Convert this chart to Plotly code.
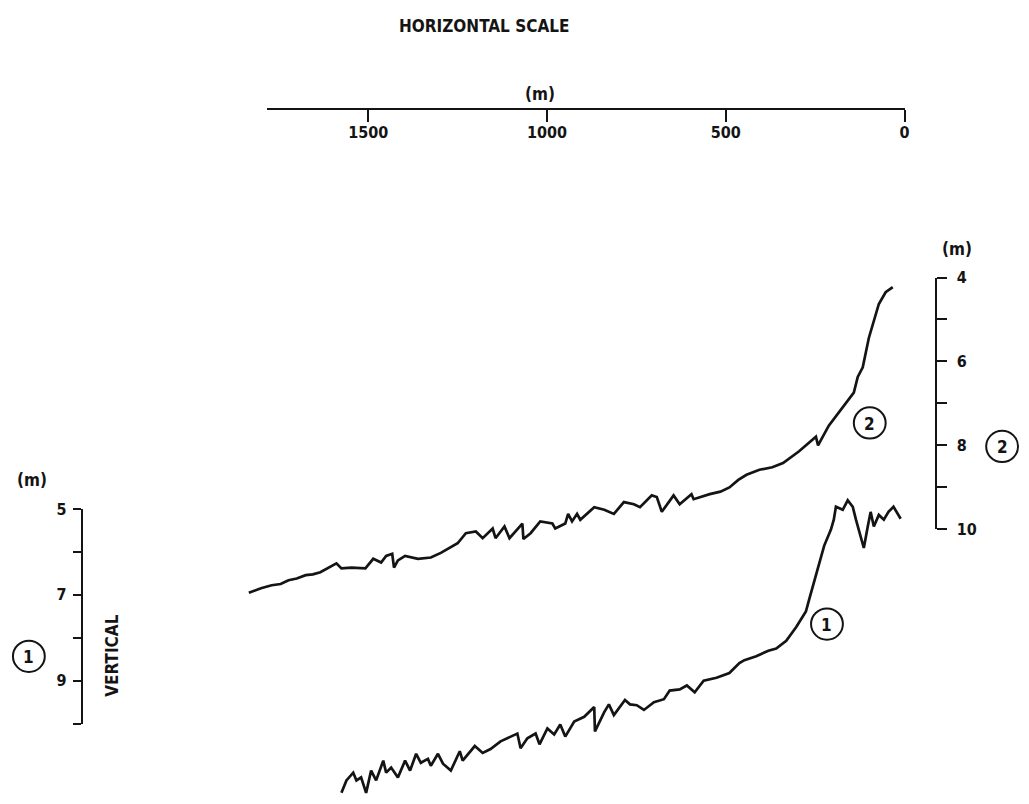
import plotly.graph_objects as go

# ---------------- data ----------------
# Profile 2 : distance from shore (m) and depth (m)
p2_dist = [1834, 1800, 1770, 1745, 1723, 1700, 1675, 1655, 1634, 1611, 1589, 1575, 1547, 1508,
           1486, 1464, 1450, 1433, 1428, 1417, 1397, 1361, 1325, 1297, 1277, 1250, 1227, 1199,
           1180, 1152, 1144, 1119, 1105, 1069, 1066, 1046, 1019, 985, 977, 949, 941, 930, 916,
           907, 868, 840, 813, 785, 757, 740, 707, 693, 679, 646, 629, 596, 590, 545, 515, 490,
           465, 442, 406, 370, 340, 295, 248, 242, 212, 184, 142, 131, 117, 100, 86, 72, 53, 33]
p2_depth = [11.51, 11.40, 11.33, 11.30, 11.21, 11.17, 11.09, 11.07, 11.02, 10.91, 10.81, 10.93,
            10.91, 10.93, 10.70, 10.79, 10.63, 10.58, 10.91, 10.74, 10.63, 10.70, 10.67, 10.56,
            10.47, 10.33, 10.09, 10.05, 10.21, 9.98, 10.21, 9.93, 10.21, 9.86, 10.23, 10.09,
            9.81, 9.86, 9.98, 9.86, 9.63, 9.81, 9.63, 9.77, 9.47, 9.53, 9.63, 9.35, 9.40, 9.47,
            9.19, 9.23, 9.58, 9.19, 9.40, 9.16, 9.28, 9.16, 9.10, 9.00, 8.82, 8.70, 8.58, 8.52,
            8.42, 8.14, 7.79, 8.00, 7.53, 7.21, 6.74, 6.37, 6.14, 5.44, 5.05, 4.63, 4.35, 4.23]

# Profile 1 : distance from shore (m) and depth (m)
p1_dist = [1575, 1561, 1542, 1533, 1520, 1506, 1492, 1478, 1458, 1450, 1436, 1417, 1397, 1383,
           1366, 1353, 1333, 1325, 1305, 1291, 1269, 1244, 1236, 1202, 1180, 1158, 1130, 1083,
           1074, 1055, 1032, 1021, 999, 980, 963, 949, 924, 896, 868, 866, 840, 827, 813, 782,
           768, 749, 729, 701, 673, 657, 629, 609, 587, 562, 526, 490, 462, 448, 415, 381, 359,
           331, 303, 276, 267, 256, 242, 225, 206, 198, 192, 173, 159, 145, 136, 122, 114, 103,
           95, 86, 72, 58, 45, 31, 11]
p1_depth = [11.61, 11.32, 11.14, 11.32, 11.25, 11.61, 11.09, 11.32, 10.86, 11.14, 11.02, 11.25,
            10.86, 11.09, 10.70, 10.91, 10.82, 10.98, 10.70, 10.93, 11.09, 10.64, 10.86, 10.52,
            10.68, 10.59, 10.41, 10.23, 10.57, 10.34, 10.23, 10.48, 10.11, 10.25, 10.02, 10.30,
            9.95, 9.84, 9.61, 10.18, 9.73, 9.55, 9.80, 9.45, 9.55, 9.57, 9.68, 9.50, 9.43, 9.23,
            9.20, 9.11, 9.27, 9.00, 8.93, 8.82, 8.59, 8.52, 8.43, 8.30, 8.25, 8.07, 7.75, 7.39,
            7.11, 6.77, 6.36, 5.86, 5.48, 5.25, 4.95, 5.02, 4.80, 4.95, 5.25, 5.64, 5.91, 5.41,
            5.07, 5.41, 5.14, 5.25, 5.07, 4.95, 5.23]

# scale bars
h_ticks = [1500, 1000, 500, 0]
h_labels = ["1500", "1000", "500", "0"]
h_extent = 1784
v2_ticks = [4, 5, 6, 7, 8, 9, 10]
v2_labels = ["4", "", "6", "", "8", "", "10"]
v1_ticks = [5, 6, 7, 8, 9, 10]
v1_labels = ["5", "", "7", "", "9", ""]

# ---------------- geometry (pixels) ----------------
W, H = 1029, 804
X_ZERO = 909          # pixel column of distance 0
H_PPM = 0.3593        # horizontal pixels per metre
H_LINE_Y = 101        # horizontal scale line row
V2_TOP, V2_PPM, V2_X = 275, 43.0, 940   # right scale: depth 4 at V2_TOP
V1_BOT, V1_PPM, V1_X = 732, 44.0, 83    # left scale: depth 10 at V1_BOT

def px(x):
    return x / W

def py(y):
    return 1 - y / H

FONT = "DejaVu Sans Condensed, DejaVu Sans, sans-serif"
INK = "#141414"

fig = go.Figure()

fig.add_trace(go.Scatter(x=p2_dist, y=p2_depth, mode="lines", xaxis="x", yaxis="y",
                         line=dict(color=INK, width=2.7), hoverinfo="skip", showlegend=False))
fig.add_trace(go.Scatter(x=p1_dist, y=p1_depth, mode="lines", xaxis="x", yaxis="y2",
                         line=dict(color=INK, width=2.7), hoverinfo="skip", showlegend=False))
# carriers for the scale-bar axes
fig.add_trace(go.Scatter(x=[], y=[], xaxis="x2", yaxis="y3", showlegend=False))
fig.add_trace(go.Scatter(x=[], y=[], xaxis="x3", yaxis="y4", showlegend=False))
fig.add_trace(go.Scatter(x=[], y=[], xaxis="x4", yaxis="y5", showlegend=False))

hidden = dict(visible=False, fixedrange=True)
tickfont = dict(family=FONT, size=16, color=INK, weight="bold")

fig.update_layout(
    width=W, height=H,
    margin=dict(l=0, r=0, t=0, b=0),
    paper_bgcolor="white", plot_bgcolor="rgba(0,0,0,0)",
    showlegend=False,
    xaxis=dict(hidden, domain=[0, 1], range=[X_ZERO / H_PPM, (X_ZERO - W) / H_PPM], anchor="y"),
    yaxis=dict(hidden, domain=[0, 1], range=[4 + (H - V2_TOP) / V2_PPM, 4 - V2_TOP / V2_PPM], anchor="x"),
    yaxis2=dict(hidden, domain=[0, 1], overlaying="y", anchor="x",
                range=[10 + (H - V1_BOT) / V1_PPM, 10 - V1_BOT / V1_PPM]),
    # horizontal scale bar
    xaxis2=dict(domain=[px(X_ZERO - h_extent * H_PPM), px(X_ZERO)], range=[h_extent, 0],
                anchor="y3", side="bottom", showline=True, linecolor=INK, linewidth=2,
                ticks="outside", ticklen=12, tickwidth=2, tickcolor=INK,
                tickvals=h_ticks, ticktext=h_labels, tickfont=tickfont, ticklabelstandoff=-3,
                showgrid=False, zeroline=False, fixedrange=True),
    yaxis3=dict(hidden, domain=[py(H_LINE_Y), py(H_LINE_Y - 30)], range=[0, 1], anchor="x2"),
    # right vertical scale (profile 2)
    xaxis3=dict(hidden, domain=[px(V2_X - 40), px(V2_X)], range=[0, 1], anchor="y4"),
    yaxis4=dict(domain=[py(V2_TOP + 6 * V2_PPM), py(V2_TOP)], range=[10, 4], anchor="x3",
                side="right", showline=True, linecolor=INK, linewidth=2,
                ticks="outside", ticklen=10, tickwidth=2, tickcolor=INK,
                tickvals=v2_ticks, ticktext=v2_labels, tickfont=tickfont, ticklabelstandoff=6,
                showgrid=False, zeroline=False, fixedrange=True),
    # left vertical scale (profile 1)
    xaxis4=dict(hidden, domain=[px(V1_X), px(V1_X + 40)], range=[0, 1], anchor="y5"),
    yaxis5=dict(domain=[py(V1_BOT), py(V1_BOT - 5 * V1_PPM)], range=[10, 5], anchor="x4",
                side="left", showline=True, linecolor=INK, linewidth=2,
                ticks="outside", ticklen=8, tickwidth=2, tickcolor=INK,
                tickvals=v1_ticks, ticktext=v1_labels, tickfont=tickfont, ticklabelstandoff=3,
                showgrid=False, zeroline=False, fixedrange=True),
)

def label(text, x, y, size=16, angle=0, bold=False):
    fig.add_annotation(text=text, x=px(x), y=py(y), xref="paper", yref="paper",
                       showarrow=False, textangle=angle, xanchor="center", yanchor="middle",
                       font=dict(family=FONT, size=size, color=INK,
                                 weight="bold" if bold else "normal"))

def circled(text, x, y, r=16):
    fig.add_shape(type="circle", xref="paper", yref="paper",
                  x0=px(x - r), x1=px(x + r), y0=py(y + r), y1=py(y - r),
                  line=dict(color=INK, width=2))
    label(text, x, y + 1, size=17, bold=True)

label("HORIZONTAL SCALE", 486, 17, size=17, bold=True)
label("(m)", 543, 87, size=17, bold=True)
label("(m)", 962, 246, size=17, bold=True)
label("(m)", 32, V1_BOT - 5 * V1_PPM - 30, size=17, bold=True)
label("VERTICAL", 113, 662, size=17, angle=-90, bold=True)

circled("2", 1007, 448)
circled("2", 874, 424)
circled("1", 831, 630)
circled("1", 29, 663)

fig.write_html("out.html", config={"displayModeBar": False, "staticPlot": True})
